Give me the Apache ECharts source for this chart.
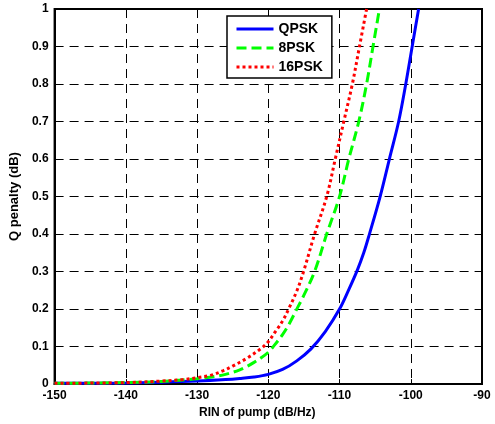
<!DOCTYPE html>
<html><head><meta charset="utf-8">
<script src="https://cdn.jsdelivr.net/npm/echarts@6/dist/echarts.min.js"></script>
<style>html,body{margin:0;padding:0;background:#fff}#c{width:495px;height:424px}</style>
</head><body><div id="c"></div>
<script>
var xTicks = [-150, -140, -130, -120, -110, -100, -90];
var yTicks = [0, 0.1, 0.2, 0.3, 0.4, 0.5, 0.6, 0.7, 0.8, 0.9, 1];

var qpskX = [-150, -140, -135, -130, -126, -124, -122, -120, -118, -116, -114, -112, -110, -108.7, -107.5, -106.6, -105.8, -104.3, -103.0, -101.7, -100.7, -99.8, -98.9];
var qpskY = [0.002, 0.003, 0.005, 0.008, 0.012, 0.015, 0.019, 0.026, 0.039, 0.062, 0.094, 0.140, 0.200, 0.252, 0.304, 0.350, 0.400, 0.500, 0.600, 0.700, 0.800, 0.900, 1.000];

var psk8X = [-150, -140, -135, -132, -130, -128, -126, -124, -123, -122, -121, -120, -119.3, -118, -117, -116, -115, -113.5, -111.8, -110.0, -108.7, -107.3, -106.2, -105.3, -104.4];
var psk8Y = [0.002, 0.004, 0.007, 0.011, 0.014, 0.019, 0.026, 0.038, 0.047, 0.058, 0.070, 0.085, 0.100, 0.132, 0.163, 0.200, 0.237, 0.300, 0.400, 0.500, 0.600, 0.700, 0.800, 0.900, 1.000];

var psk16X = [-150, -140, -135, -132, -130, -128, -126.3, -125, -123, -121, -120, -119, -118, -117.15, -116, -115.05, -113.5, -111.8, -110.6, -109.4, -108.2, -107.2, -106.2];
var psk16Y = [0.002, 0.004, 0.008, 0.012, 0.017, 0.024, 0.036, 0.048, 0.069, 0.095, 0.113, 0.140, 0.168, 0.200, 0.248, 0.300, 0.400, 0.500, 0.600, 0.700, 0.800, 0.900, 1.000];

function pairs(xs, ys) { return xs.map(function (x, i) { return [x, ys[i]]; }); }

var font = 'Liberation Sans, Arial, sans-serif';
var chart = echarts.init(document.getElementById('c'), null, {renderer: 'canvas'});
chart.setOption({
  animation: false,
  backgroundColor: '#fff',
  grid: {left: 54, right: 13, top: 9, bottom: 38, show: true, borderColor: '#000', borderWidth: 2, backgroundColor: 'transparent'},
  legend: {
    left: 227, top: 16, orient: 'vertical', itemGap: 5, itemWidth: 37, itemHeight: 14,
    backgroundColor: '#fff', borderColor: '#000', borderWidth: 1.5, padding: [6, 9, 4, 8],
    itemStyle: {opacity: 0},
    lineStyle: {width: 3},
    textStyle: {fontFamily: font, fontWeight: 'bold', fontSize: 14, color: '#000'},
    data: ['QPSK', '8PSK', '16PSK']
  },
  xAxis: {
    type: 'value', min: xTicks[0], max: xTicks[xTicks.length - 1], interval: 10,
    name: 'RIN of pump (dB/Hz)', nameLocation: 'middle', nameGap: 22,
    nameTextStyle: {fontFamily: font, fontWeight: 'bold', fontSize: 12, color: '#000', padding: [0, 22, 0, 0]},
    axisLine: {show: true, lineStyle: {color: '#000', width: 2}},
    axisTick: {show: true, inside: true, length: 5, lineStyle: {color: '#000'}},
    axisLabel: {fontFamily: font, fontWeight: 'bold', fontSize: 12, color: '#000', margin: 6},
    splitLine: {show: true, lineStyle: {color: '#000', type: [9, 6], width: 1}}
  },
  yAxis: {
    type: 'value', min: yTicks[0], max: yTicks[yTicks.length - 1], interval: 0.1,
    name: 'Q penalty (dB)', nameLocation: 'middle', nameGap: 27, nameRotate: 90,
    nameTextStyle: {fontFamily: font, fontWeight: 'bold', fontSize: 13, color: '#000'},
    axisLine: {show: true, lineStyle: {color: '#000', width: 2}},
    axisTick: {show: true, inside: true, length: 5, lineStyle: {color: '#000'}},
    axisLabel: {fontFamily: font, fontWeight: 'bold', fontSize: 12, color: '#000', margin: 6,
      formatter: function (v) { return String(Math.round(v * 10) / 10); }},
    splitLine: {show: true, lineStyle: {color: '#000', type: [9, 6], width: 1}}
  },
  series: [
    {name: 'QPSK', type: 'line', smooth: 0.35, showSymbol: false, symbol: 'none', data: pairs(qpskX, qpskY),
      lineStyle: {color: '#0000ff', width: 3, type: 'solid'}, itemStyle: {color: '#0000ff'}, z: 3},
    {name: '8PSK', type: 'line', smooth: 0.35, showSymbol: false, symbol: 'none', data: pairs(psk8X, psk8Y),
      lineStyle: {color: '#00ff00', width: 3, type: [10, 5]}, itemStyle: {color: '#00ff00'}, z: 4},
    {name: '16PSK', type: 'line', smooth: 0.35, showSymbol: false, symbol: 'none', data: pairs(psk16X, psk16Y),
      lineStyle: {color: '#ff0000', width: 3, type: [3, 3]}, itemStyle: {color: '#ff0000'}, z: 5}
  ]
});
</script></body></html>
